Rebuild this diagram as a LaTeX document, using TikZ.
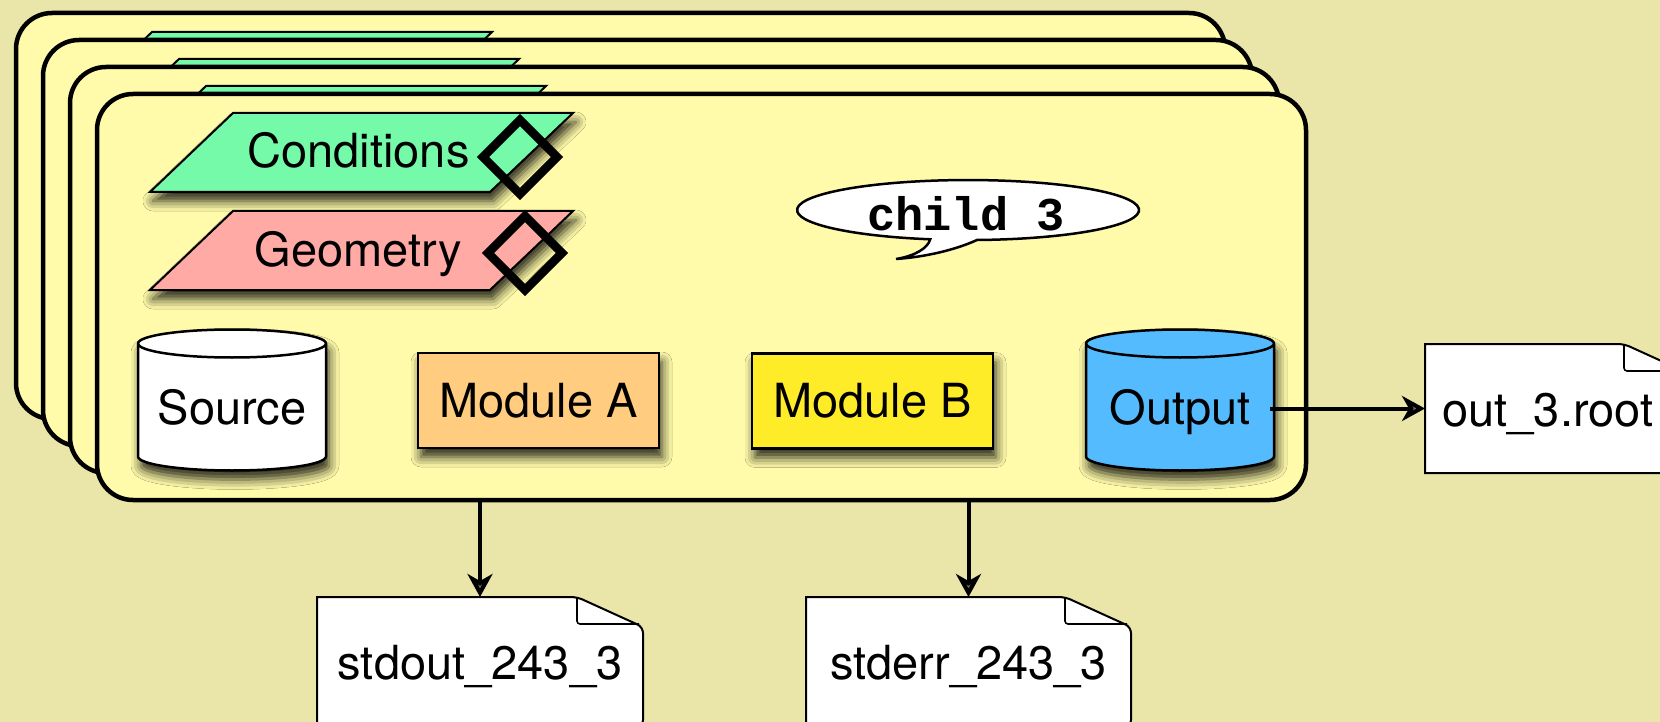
\documentclass[tikz,border=0pt]{standalone}
\usepackage{fontspec}
\setmainfont{TeX Gyre Heros}
\newfontfamily\codefont{Liberation Mono}
\usetikzlibrary{arrows.meta,shadows.blur}

\definecolor{paper}{RGB}{234,230,170}
\definecolor{panelfill}{RGB}{255,251,170}
\definecolor{condfill}{RGB}{117,250,170}
\definecolor{geomfill}{RGB}{255,170,165}
\definecolor{modAfill}{RGB}{255,204,128}
\definecolor{modBfill}{RGB}{255,236,40}
\definecolor{outfill}{RGB}{84,187,255}

% cylinder centred at (#1,#2), 188 wide and 141 high, filled with #3
\newcommand\drumoutline[3]{%
  \path[drumline, fill=#3]
    (#1-94,#2-56.5) -- (#1-94,#2+56.5)
    arc[start angle=180, end angle=360, x radius=94pt, y radius=14pt]
    -- (#1+94,#2-56.5)
    arc[start angle=0, end angle=180, x radius=94pt, y radius=14pt] -- cycle;
  \draw[line width=2.5pt] (#1-94,#2-56.5)
    arc[start angle=180, end angle=360, x radius=94pt, y radius=14pt];
}

% page with a folded top-right corner: left #1, top #2, right #3, bottom #4
\newcommand\docoutline[4]{%
  \path[docline] (#1,#2) [rounded corners=6pt]
    -- (#3-66,#2) -- (#3,#2+30) -- (#3,#4) [sharp corners]
    -- (#1,#4) -- cycle;
  \draw[line width=1.6pt, rounded corners=3pt]
    (#3-66,#2) -- (#3-66,#2+27) -- (#3-4,#2+27);
}

\begin{document}
\begin{tikzpicture}[x=1pt, y=-1pt,
  every node/.style={font=\fontsize{47pt}{56pt}\selectfont},
  dropshadow/.style={blur shadow={shadow xshift=3pt, shadow yshift=-9pt,
      shadow blur radius=10pt, shadow opacity=85}},
  panelbox/.style={draw, line width=4.5pt, fill=panelfill, rounded corners=36pt,
      minimum width=1209pt, minimum height=406pt, inner sep=0pt, outer sep=0pt},
  tabshape/.style={draw, line width=2pt, fill=condfill},
  slab/.style={draw, line width=2pt, dropshadow},
  tagmark/.style={draw, line width=8.5pt},
  module/.style={draw, line width=2.5pt, minimum width=241pt, minimum height=95pt,
      inner sep=0pt, dropshadow},
  drum/.style={minimum width=188pt, minimum height=141pt, inner sep=0pt,
      outer sep=0pt, text height=48pt, text depth=0pt},
  drumline/.style={draw, line width=2.5pt, dropshadow},
  docfile/.style={minimum height=129pt, inner sep=0pt, outer sep=0pt,
      text height=36pt, text depth=0pt},
  docline/.style={draw, fill=white, line width=2pt},
  bubble/.style={draw, fill=white, line width=2.5pt},
  flow/.style={line width=4pt, -{Stealth[length=23pt, width=25pt, inset=7pt]}}
]
\useasboundingbox (0,0) rectangle (1660,722);
% warm-up shadow outside the page, so that the shadow fading exists before real use
\path[dropshadow, fill=paper] (-400,-400) rectangle (-300,-300);

\fill[paper] (0,0) rectangle (1660,722);

% stack of child panels, each back one showing the top of its Conditions slab
\node[panelbox] (p1) at (620.5,216) {};
\path[tabshape, shift={(-81,-81)}] (233,113) -- (573,113) -- (490,192) -- (150,192) -- cycle;
\node[panelbox] (p2) at (647.5,243) {};
\path[tabshape, shift={(-54,-54)}] (233,113) -- (573,113) -- (490,192) -- (150,192) -- cycle;
\node[panelbox] (p3) at (674.5,270) {};
\path[tabshape, shift={(-27,-27)}] (233,113) -- (573,113) -- (490,192) -- (150,192) -- cycle;
\node[panelbox] (child) at (701.5,297) {};

% input slabs
\path[slab, fill=condfill] (233,113) -- (573,113) -- (490,192) -- (150,192) -- cycle;
\node[anchor=base] (cond) at (358.5,168) {Conditions};
\path[tagmark] (520,120) -- (557,157) -- (520,194) -- (483,157) -- cycle;

\path[slab, fill=geomfill] (233,211) -- (573,211) -- (490,290) -- (150,290) -- cycle;
\node[anchor=base] (geom) at (358.5,266) {Geometry};
\path[tagmark] (525,216) -- (562,253) -- (525,290) -- (488,253) -- cycle;

% speech bubble
\path[bubble] (977,240) arc[start angle=273, end angle=617.2, x radius=171pt, y radius=30pt]
  .. controls (928,248) and (915,256) .. (896,259)
  .. controls (925,257) and (955,250) .. (977,240) -- cycle;
\node[anchor=base, font=\fontsize{47pt}{56pt}\codefont\bfseries] (tag) at (966,231) {child 3};

% processing chain
\drumoutline{232}{400}{white}
\node[drum] (source) at (232,400) {Source};
\node[module, fill=modAfill] (moda) at (538.5,400.5) {Module A};
\node[module, fill=modBfill] (modb) at (872.5,401) {Module B};
\drumoutline{1180}{400}{outfill}
\node[drum] (output) at (1180,400) {Output};

% produced files
\docoutline{317}{597}{643}{726}
\node[docfile, minimum width=326pt] (stdout) at (480,661.5) {stdout\_243\_3};
\docoutline{806}{597}{1131}{726}
\node[docfile, minimum width=325pt] (stderr) at (968.5,661.5) {stderr\_243\_3};
\docoutline{1425}{344}{1690}{473}
\node[docfile, minimum width=265pt, text width=230pt, align=left] (out3) at (1557.5,408.5) {out\_3.root};

% connectors
\draw[flow] (child.south -| stdout.north) -- (stdout.north);
\draw[flow] (child.south -| stderr.north) -- (stderr.north);
\draw[flow] ([xshift=-4pt]output.east |- out3.west) -- (out3.west);
\end{tikzpicture}
\end{document}
